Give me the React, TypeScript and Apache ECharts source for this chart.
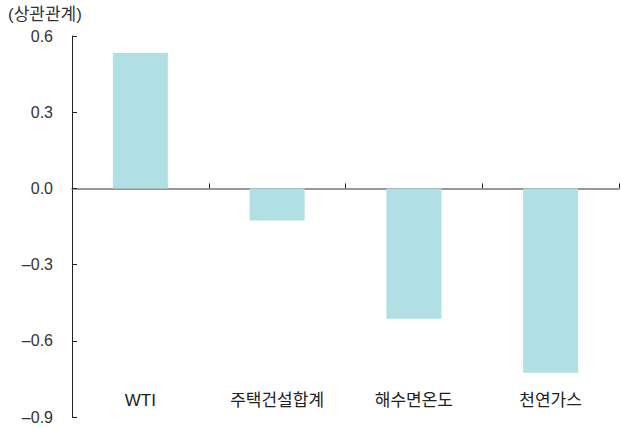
import React, { useEffect, useRef } from "react";
import * as echarts from "echarts";

const categories = ["WTI", "주택건설합계", "해수면온도", "천연가스"];
const correlations = [0.533, -0.126, -0.513, -0.726];
const yTicks = [-0.9, -0.6, -0.3, 0.0, 0.3, 0.6];

export default function App() {
  const ref = useRef<HTMLDivElement>(null);
  useEffect(() => {
    const chart = echarts.init(ref.current!, null, { renderer: "svg" });
    const font = "'Liberation Sans', 'Noto Sans CJK KR', sans-serif";
    chart.setOption({
      animation: false,
      textStyle: { fontFamily: font },
      graphic: [
        {
          type: "text",
          left: 8,
          top: 6,
          style: { text: "(상관관계)", fontSize: 17, fill: "#333", fontFamily: font },
        },
      ],
      grid: { left: 72, right: 2, top: 36, bottom: 11, containLabel: false },
      xAxis: [
        {
          type: "category",
          data: categories,
          axisLine: { onZero: true, lineStyle: { color: "#777", width: 1.5 } },
          axisTick: { show: true, inside: true, length: 5, lineStyle: { color: "#222" } },
          axisLabel: { show: false },
        },
        {
          type: "category",
          data: categories,
          position: "bottom",
          offset: -33,
          axisLine: { show: false },
          axisTick: { show: false },
          axisLabel: { show: true, fontSize: 17, color: "#222", margin: 8, fontFamily: font },
        },
      ],
      yAxis: {
        type: "value",
        min: yTicks[0],
        max: yTicks[yTicks.length - 1],
        interval: 0.3,
        axisLine: { show: true, onZero: false, lineStyle: { color: "#222" } },
        axisTick: { show: true, inside: true, length: 5, lineStyle: { color: "#222" } },
        splitLine: { show: false },
        axisLabel: {
          fontSize: 16,
          color: "#333",
          margin: 19,
          fontFamily: font,
          formatter: (v: number) => v.toFixed(1).replace("-", "–"),
        },
      },
      series: [
        {
          type: "bar",
          data: correlations,
          xAxisIndex: 0,
          barWidth: 55,
          itemStyle: { color: "#b0dfe4" },
        },
      ],
    });
    return () => chart.dispose();
  }, []);
  return <div ref={ref} style={{ width: 621, height: 428, position: "absolute", left: 0, top: 0 }} />;
}
